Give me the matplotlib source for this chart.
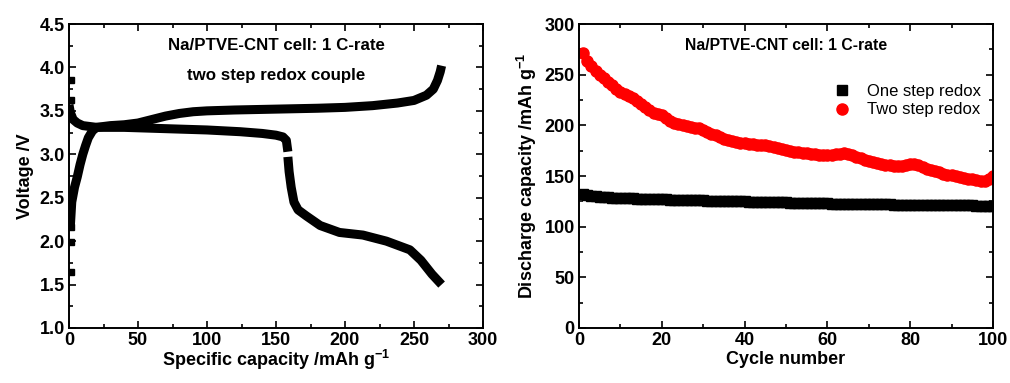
import matplotlib
matplotlib.use("Agg")
import matplotlib.pyplot as plt
from matplotlib.ticker import MultipleLocator

plt.rcParams['font.family'] = ['Liberation Sans', 'DejaVu Sans']
plt.rcParams['mathtext.fontset'] = 'custom'
plt.rcParams['mathtext.rm'] = 'Liberation Sans'
plt.rcParams['mathtext.bf'] = 'Liberation Sans:bold'

# left panel: charge / discharge profile (capacity mAh/g, voltage V)
charge_cap = [1, 2, 4, 6, 8, 10, 12, 14, 17, 20, 30, 40, 50, 60, 70, 80, 90, 100,
              120, 150, 180, 200, 220, 238, 250, 259, 264, 267, 269, 270]
charge_v = [2.18, 2.45, 2.62, 2.74, 2.88, 3.00, 3.10, 3.19, 3.27, 3.31, 3.33, 3.34, 3.36, 3.40,
            3.44, 3.47, 3.49, 3.50, 3.51, 3.52, 3.53, 3.54, 3.56, 3.59, 3.62, 3.68, 3.75, 3.85,
            3.95, 4.02]
dis_cap_hi = [0, 1, 3, 6, 10, 20, 40, 60, 80, 100, 124, 140, 150, 155, 157.5, 158.6]
dis_v_hi = [3.57, 3.48, 3.40, 3.36, 3.33, 3.31, 3.31, 3.30, 3.29, 3.28, 3.26, 3.24, 3.22,
            3.20, 3.16, 3.03]
dis_cap_lo = [158.6, 159.5, 161, 163, 166, 172, 182, 196, 213, 230, 247, 255, 263, 270]
dis_v_lo = [2.97, 2.80, 2.62, 2.45, 2.36, 2.29, 2.18, 2.10, 2.07, 2.00, 1.90, 1.78, 1.62, 1.50]
stray_cap = [1.5, 1.5, 1.5, 1.5, 1.5]
stray_v = [3.85, 3.62, 2.16, 1.99, 1.64]

# right panel: cycling
cycles = list(range(1, 101))
two_step = [271, 263, 259, 254, 250, 247, 243, 240, 236, 233,
            231, 229, 227, 224, 221, 218, 215, 212, 211, 210,
            207, 204, 202, 201, 200, 199, 198, 197, 197, 195,
            193, 191, 190, 188, 187, 186, 185, 184, 183, 183,
            182, 182, 181, 181, 181, 180, 179, 178, 177, 176,
            175, 174, 174, 173, 173, 172, 172, 171, 171, 171,
            171, 172, 172, 173, 172, 171, 169, 168, 166, 165,
            164, 163, 162, 161, 161, 160, 160, 160, 161, 162,
            162, 161, 159, 157, 156, 155, 154, 152, 151, 151,
            150, 149, 148, 147, 147, 146, 145, 145, 147, 150]
one_step = [132, 131, 130, 130, 129, 129, 129, 128, 128, 128,
            128, 128, 128, 127, 127, 127, 127, 127, 127, 127,
            127, 126, 126, 126, 126, 126, 126, 126, 126, 126,
            125, 125, 125, 125, 125, 125, 125, 125, 125, 125,
            124, 124, 124, 124, 124, 124, 124, 124, 124, 124,
            123, 123, 123, 123, 123, 123, 123, 123, 123, 123,
            122, 122, 122, 122, 122, 122, 122, 122, 122, 122,
            122, 122, 122, 122, 122, 121, 121, 121, 121, 121,
            121, 121, 121, 121, 121, 121, 121, 121, 121, 121,
            121, 121, 121, 121, 121, 120, 120, 120, 120, 120]

fig = plt.figure(figsize=(10.1, 3.83), dpi=100)
ax1 = fig.add_axes([69/1010, 55/383, 414/1010, 304/383])
ax2 = fig.add_axes([579/1010, 55/383, 414/1010, 304/383])

lw = 6.5
for xs, ys in [(charge_cap, charge_v), (dis_cap_hi, dis_v_hi), (dis_cap_lo, dis_v_lo)]:
    ax1.plot(xs, ys, color='black', lw=lw, solid_capstyle='butt', solid_joinstyle='round')
ax1.plot(stray_cap, stray_v, 's', color='black', ms=4, ls='none')

ax1.set_xlim(0, 300)
ax1.set_ylim(1.0, 4.5)
ax1.xaxis.set_major_locator(MultipleLocator(50))
ax1.xaxis.set_minor_locator(MultipleLocator(25))
ax1.yaxis.set_major_locator(MultipleLocator(0.5))
ax1.yaxis.set_minor_locator(MultipleLocator(0.25))
ax1.set_xlabel(r"Specific capacity /mAh g$^{\mathbf{-1}}$", fontsize=13, fontweight='bold', labelpad=-1)
ax1.set_ylabel("Voltage /V", fontsize=13, fontweight='bold', labelpad=4)
ax1.text(0.5, 0.93, "Na/PTVE-CNT cell: 1 C-rate", transform=ax1.transAxes, ha='center', va='center',
         fontsize=12.2, fontweight='bold')
ax1.text(0.5, 0.83, "two step redox couple", transform=ax1.transAxes, ha='center', va='center',
         fontsize=12.2, fontweight='bold')

ax2.plot(cycles, one_step, 's', color='black', ms=6.5, ls='none', label='One step redox')
ax2.plot(cycles, two_step, 'o', color='#ff0000', ms=8, ls='none', label='Two step redox')
ax2.set_xlim(0, 100)
ax2.set_ylim(0, 300)
ax2.xaxis.set_major_locator(MultipleLocator(20))
ax2.xaxis.set_minor_locator(MultipleLocator(10))
ax2.yaxis.set_major_locator(MultipleLocator(50))
ax2.yaxis.set_minor_locator(MultipleLocator(25))
ax2.set_xlabel("Cycle number", fontsize=13, fontweight='bold', labelpad=1)
ax2.set_ylabel(r"Discharge capacity /mAh g$^{\mathbf{-1}}$", fontsize=13, fontweight='bold', labelpad=4)
ax2.text(0.5, 0.93, "Na/PTVE-CNT cell: 1 C-rate", transform=ax2.transAxes, ha='center', va='center',
         fontsize=11.3, fontweight='bold')
ax2.legend(loc='upper left', bbox_to_anchor=(0.59, 0.83), frameon=False, fontsize=12,
           handletextpad=0.9, labelspacing=0.2, borderpad=0, handlelength=1.2)

for ax in (ax1, ax2):
    ax.tick_params(which='both', direction='in', top=True, right=True, width=1.2)
    ax.tick_params(which='major', length=5, labelsize=13, pad=3)
    ax.tick_params(which='minor', length=3)
    for lab in ax.get_xticklabels() + ax.get_yticklabels():
        lab.set_fontweight('bold')
    for sp in ax.spines.values():
        sp.set_linewidth(1.4)

fig.savefig("out.png", dpi=100)
